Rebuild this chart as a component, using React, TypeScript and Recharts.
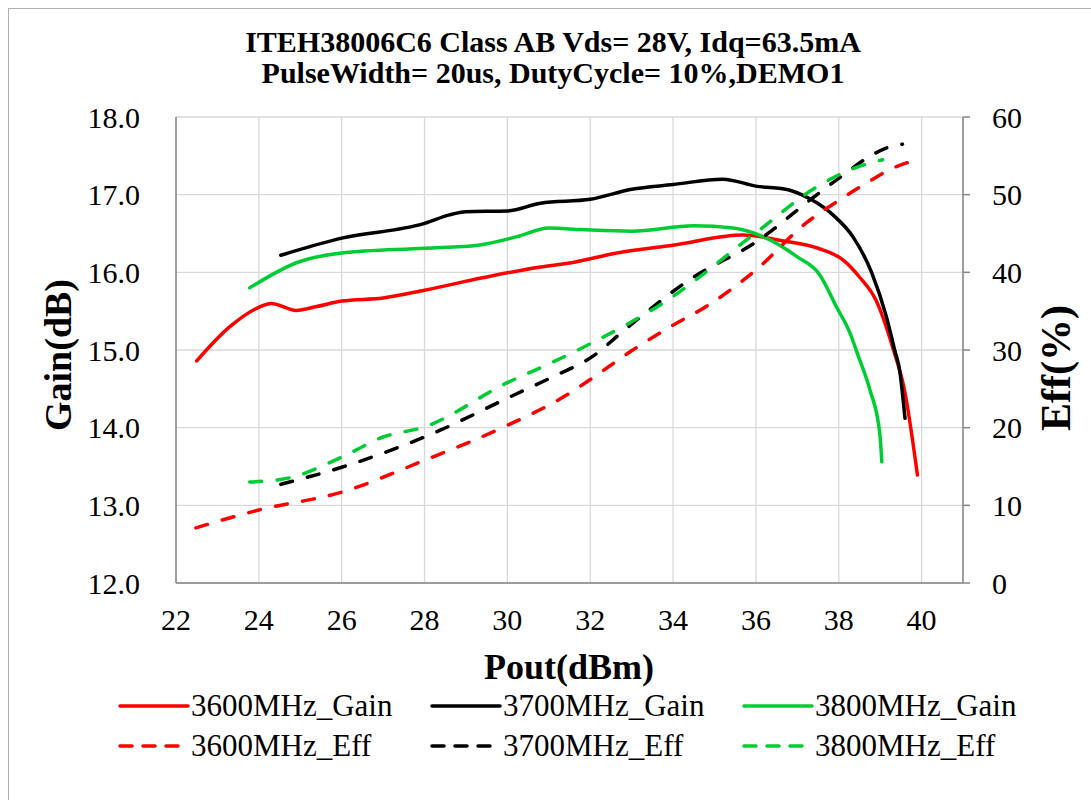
import { ComposedChart, Line, XAxis, YAxis, CartesianGrid } from 'recharts'

// axis ticks
const xTicks = [22, 24, 26, 28, 30, 32, 34, 36, 38, 40]
const gainTicks = [12, 13, 14, 15, 16, 17, 18]
const effTicks = [0, 10, 20, 30, 40, 50, 60]

// 3600MHz
const pout3600G = [22.5, 23.3, 24.0, 24.3, 24.9, 25.4, 26, 27, 28, 29.4, 30.8, 31.5, 32.65, 34, 35.7, 36.6, 37.5, 38.1, 38.5, 38.9, 39.3, 39.6, 39.9]
const gain3600 = [14.86, 15.3, 15.55, 15.6, 15.51, 15.56, 15.63, 15.67, 15.77, 15.93, 16.07, 16.12, 16.25, 16.35, 16.48, 16.41, 16.31, 16.16, 15.94, 15.64, 15.04, 14.45, 13.39]
const pout3600E = [22.48, 24.0, 26, 28, 30, 31.4, 32, 33, 34, 34.8, 36, 37.2, 38.1, 38.7, 39.3, 39.7]
const eff3600 = [7.1, 9.4, 11.7, 15.8, 20.3, 24.1, 26.2, 29.9, 33.2, 35.6, 40.3, 46.3, 49.6, 51.6, 53.4, 54.2]

// 3700MHz
const pout3700G = [24.53, 26, 28, 28.6, 29.0, 30.0, 30.8, 32, 33.0, 34, 35.2, 36.0, 36.8, 37.1, 37.86, 38.34, 38.8, 39.15, 39.35, 39.47, 39.6]
const gain3700 = [16.22, 16.44, 16.63, 16.74, 16.78, 16.79, 16.89, 16.94, 17.07, 17.13, 17.2, 17.11, 17.06, 17.0, 16.74, 16.46, 15.99, 15.43, 15.0, 14.74, 14.12]
const pout3700E = [24.53, 26, 28, 30.24, 31.04, 32.17, 32.7, 34.5, 36, 37.4, 38.1, 38.8, 39.2, 39.54]
const eff3700 = [12.7, 14.9, 18.8, 24.4, 26.4, 29.6, 32.0, 39.4, 43.9, 49.7, 52.5, 55.1, 56.1, 56.5]

// 3800MHz
const pout3800G = [23.78, 24.94, 26, 28, 29.3, 30.24, 31.0, 31.8, 33.0, 34.5, 35.45, 36.17, 37.0, 37.54, 37.95, 38.27, 38.46, 38.75, 38.99, 39.04]
const gain3800 = [15.8, 16.13, 16.25, 16.31, 16.35, 16.46, 16.57, 16.55, 16.53, 16.6, 16.57, 16.46, 16.2, 15.97, 15.55, 15.22, 14.94, 14.49, 13.93, 13.56]
const pout3800E = [23.78, 24.7, 26, 27, 28, 30, 31.04, 32, 33.86, 36, 37.47, 38.27, 39.06]
const eff3800 = [13.0, 13.5, 16.2, 18.8, 20.1, 25.8, 28.3, 30.8, 36.4, 45.1, 51.0, 53.2, 54.5]

const zip = (xs: number[], ys: number[]) => xs.map((p, i) => ({ p, v: ys[i] }))

const RED = '#ff0000'
const BLACK = '#000000'
const GREEN = '#00cc33'
const DASH = '12 15.5'

const series = [
  { name: '3600MHz_Gain', axis: 'gain', color: RED, dashed: false, data: zip(pout3600G, gain3600) },
  { name: '3700MHz_Gain', axis: 'gain', color: BLACK, dashed: false, data: zip(pout3700G, gain3700) },
  { name: '3800MHz_Gain', axis: 'gain', color: GREEN, dashed: false, data: zip(pout3800G, gain3800) },
  { name: '3600MHz_Eff', axis: 'eff', color: RED, dashed: true, data: zip(pout3600E, eff3600) },
  { name: '3700MHz_Eff', axis: 'eff', color: BLACK, dashed: true, data: zip(pout3700E, eff3700) },
  { name: '3800MHz_Eff', axis: 'eff', color: GREEN, dashed: true, data: zip(pout3800E, eff3800) },
]

const FONT = '"Liberation Serif", "Times New Roman", serif'
const AXIS = '#868686'
const tickStyle = { fontSize: 30, fill: '#000', fontFamily: FONT }

const legendCols = [118, 430, 742]
const legendRows = [706, 746]

export default function App() {
  return (
    <div style={{ position: 'absolute', left: 0, top: 0, width: 1091, height: 800, overflow: 'hidden', background: '#fff', fontFamily: FONT }}>
      <div style={{ position: 'absolute', left: 8, top: 8, width: 1200, height: 900, borderLeft: '1px solid #b0b0b0', borderTop: '1px solid #b0b0b0' }} />

      <div style={{ position: 'absolute', left: 553, top: 26, transform: 'translateX(-50%)', whiteSpace: 'nowrap', textAlign: 'center', fontWeight: 'bold', fontSize: 30, lineHeight: '31px', color: '#000' }}>
        <div>ITEH38006C6 Class AB Vds= 28V, Idq=63.5mA</div>
        <div>PulseWidth= 20us, DutyCycle= 10%,DEMO1</div>
      </div>

      <div style={{ position: 'absolute', left: 0, top: 0 }}>
        <ComposedChart width={1091} height={800} margin={{ top: 117, right: 0, bottom: 0, left: 0 }}>
          <CartesianGrid yAxisId="gain" stroke="#d9d9d9" strokeWidth={1.3} />
          <XAxis
            dataKey="p"
            type="number"
            domain={[22, 41]}
            ticks={xTicks}
            allowDataOverflow
            height={217}
            axisLine={{ stroke: AXIS, strokeWidth: 1.5 }}
            tickLine={false}
            tickSize={6}
            tickMargin={20}
            tick={tickStyle}
          />
          <YAxis
            yAxisId="gain"
            domain={[12, 18]}
            ticks={gainTicks}
            width={176}
            tickFormatter={(v: number) => v.toFixed(1)}
            axisLine={{ stroke: AXIS, strokeWidth: 1.5 }}
            tickLine={false}
            tickSize={6}
            tickMargin={30}
            tick={tickStyle}
          />
          <YAxis
            yAxisId="eff"
            orientation="right"
            domain={[0, 60]}
            ticks={effTicks}
            width={128}
            axisLine={{ stroke: AXIS, strokeWidth: 1.5 }}
            tickLine={{ stroke: AXIS, strokeWidth: 1.5 }}
            tickSize={7}
            tickMargin={22}
            tick={{ ...tickStyle, textAnchor: 'start' }}
          />
          {series.map((s) => (
            <Line
              key={s.name}
              yAxisId={s.axis}
              data={s.data}
              dataKey="v"
              type="monotone"
              stroke={s.color}
              strokeWidth={3.5}
              strokeDasharray={s.dashed ? DASH : undefined}
              strokeLinecap="round"
              dot={false}
              isAnimationActive={false}
            />
          ))}
        </ComposedChart>
      </div>

      <div style={{ position: 'absolute', left: 58, top: 355, transform: 'translate(-50%, -50%) rotate(-90deg)', fontWeight: 'bold', fontSize: 38, whiteSpace: 'nowrap', lineHeight: 1 }}>
        Gain(dB)
      </div>
      <div style={{ position: 'absolute', left: 1056, top: 368, transform: 'translate(-50%, -50%) rotate(-90deg)', fontWeight: 'bold', fontSize: 42, whiteSpace: 'nowrap', lineHeight: 1 }}>
        Eff(%)
      </div>
      <div style={{ position: 'absolute', left: 569, top: 667, transform: 'translate(-50%, -50%)', fontWeight: 'bold', fontSize: 36, whiteSpace: 'nowrap', lineHeight: 1 }}>
        Pout(dBm)
      </div>

      {series.map((s, i) => {
        const x = legendCols[i % 3]
        const y = legendRows[Math.floor(i / 3)]
        return (
          <div key={s.name} style={{ position: 'absolute', left: x, top: y - 20, height: 40, display: 'flex', alignItems: 'center', whiteSpace: 'nowrap' }}>
            <svg width={72} height={10} style={{ display: 'block' }}>
              <line x1={2} y1={5} x2={70} y2={5} stroke={s.color} strokeWidth={3.5} strokeLinecap="round" strokeDasharray={s.dashed ? '12 11' : undefined} />
            </svg>
            <span style={{ fontSize: 31, marginLeft: 1 }}>{s.name}</span>
          </div>
        )
      })}
    </div>
  )
}
